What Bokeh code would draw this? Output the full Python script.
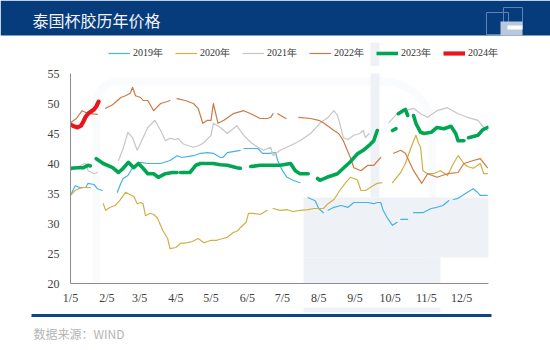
import numpy as np
from bokeh.plotting import figure
from bokeh.layouts import column
from bokeh.models import (Range1d, FixedTicker, Legend, LegendItem, BoxAnnotation,
                          Label, ColumnDataSource)
from bokeh.embed import file_html
from bokeh.resources import INLINE

nan = float("nan")

# x = days after Jan 5
tick_days = [0, 31, 59, 90, 120, 151, 181, 212, 243, 273, 304, 334]
tick_labels = ["1/5", "2/5", "3/5", "4/5", "5/5", "6/5", "7/5", "8/5", "9/5", "10/5", "11/5", "12/5"]
y_ticks = [20, 25, 30, 35, 40, 45, 50, 55]

series_names = ["2019年", "2020年", "2021年", "2022年", "2023年", "2024年"]

day_2019 = [0, 4, 8, 13, 15, 20, 23, 27, nan, 40, 43, 45, 49, 53, 60, 66, 77, 85, 91, 95, 105, 111, 117, 122,
            128, 130, 134, 145, nan, 148, 155, 160, 164, 170, 175, 177, 181, 185, 190, 196, nan, 203, 209, 212,
            216, nan, 220, 225, 231, 237, 242, 250, 254, 259, 262, 265, 267, 271, 275, 279, nan, 282, 288, nan,
            293, 301, 308, 313, 318, 323, nan, 327, 331, 335, 339, 344, 347, 350, 356]
val_2019 = [34.7, 36.3, 36.0, 36.0, 36.7, 36.5, 35.8, 35.5, nan, 35.2, 36.7, 37.5, 38.0, 39.3, 40.2, 40.0, 40.0,
            40.5, 41.3, 41.0, 41.3, 41.7, 41.8, 41.7, 41.0, 41.0, 41.8, 42.2, nan, 42.5, 42.5, 42.5, 41.7, 41.7,
            41.8, 40.5, 38.8, 37.7, 37.2, 36.8, nan, 34.3, 33.8, 32.5, 31.8, nan, 32.2, 32.7, 33.0, 32.7, 33.5,
            33.5, 33.5, 33.3, 33.5, 33.5, 32.2, 30.8, 29.7, 30.2, nan, 30.7, 30.7, nan, 31.8, 31.8, 32.5, 32.7,
            33.0, 33.8, nan, 34.0, 34.2, 34.7, 35.2, 35.8, 35.3, 34.7, 34.7]

day_2020 = [0, 4, 7, 11, 15, 17, nan, 28, 30, 34, 38, 42, 47, 51, 54, 57, 60, 62, 64, 68, 71, 74, 79, 83, 85, 90,
            94, 100, 104, 109, 114, 120, 125, 130, 134, 139, 143, 145, 150, 152, 156, 162, 168, nan, 173, 179,
            185, 190, 196, 203, 208, 216, 220, 225, 230, 235, 239, 245, 248, 252, 256, 262, 266, nan, 275, 282,
            286, 290, 293, 295, 297, 299, 301, 305, 310, 316, 322, 327, 331, 336, 339, 344, 350, 353, 356]
val_2020 = [34.7, 35.5, 35.8, 36.0, 36.0, 36.0, nan, 33.3, 32.2, 32.7, 33.0, 33.8, 35.2, 34.8, 34.5, 33.3, 33.5,
            33.3, 31.3, 31.7, 31.5, 31.0, 28.8, 27.5, 25.8, 26.0, 26.7, 26.8, 27.0, 27.5, 26.8, 27.2, 27.2, 27.5,
            27.7, 28.5, 28.8, 29.3, 30.2, 31.7, 31.7, 31.5, 32.2, nan, 32.5, 32.2, 32.3, 32.0, 32.2, 32.3, 32.5,
            32.5, 33.3, 34.0, 35.5, 36.8, 37.7, 37.3, 35.5, 35.5, 36.0, 36.7, 36.8, nan, 36.8, 38.5, 40.0, 42.2,
            43.8, 44.7, 43.5, 42.7, 38.8, 38.3, 38.3, 38.8, 38.0, 40.0, 41.3, 40.0, 39.5, 39.2, 40.0, 38.3, 38.3]

day_2021 = [0, 4, 9, 13, 15, 20, 23, nan, 41, 45, 49, 53, 57, 62, 66, 72, 77, 81, 85, 90, 92, 96, 100, 105, 110,
            114, 120, 122, 128, 134, 142, 148, 154, 160, 165, 171, 173, 179, 188, 196, 205, 213, 220, 225, 228,
            230, 233, 237, 242, 247, 250, 252, 255, nan, 272, 279, 286, 293, 299, 305, 313, 322, 331, 339, 348,
            353, 356]
val_2021 = [38.8, 39.2, 39.7, 40.0, 38.8, 38.3, 38.5, nan, 40.5, 42.5, 45.2, 44.3, 42.2, 44.3, 46.0, 47.2, 45.5,
            43.8, 44.2, 44.0, 44.2, 43.3, 43.0, 42.7, 43.0, 43.5, 44.7, 46.7, 46.0, 45.0, 46.3, 44.7, 43.5, 42.7,
            42.2, 42.7, 41.3, 42.2, 43.0, 43.8, 45.0, 46.7, 47.7, 48.8, 48.0, 46.7, 44.3, 44.0, 44.7, 45.0, 45.5,
            44.3, 45.0, nan, 46.8, 48.3, 48.8, 49.2, 48.3, 47.7, 48.8, 49.3, 48.3, 47.7, 47.2, 46.0, 45.5]

day_2022 = [0, 5, 10, 13, 17, 23, nan, 30, 36, 43, 47, 51, 53, 55.5, 60, 62, 66, 71, 77, 82, 85, nan, 91, 98, 105,
            109, 113, 117, 120, 122, 126, 131, 139, 148, 154, 162, 168, 171, 173, nan, 177, 184, nan, 195, 205,
            212, 216, 225, 229, 233, 239, 242, 248, 254, 259, 265, nan, 276, 282, 286, 293, 300, 305, 313, 322,
            331, 336, 344, 350, 356]
val_2022 = [46.8, 47.5, 48.8, 48.5, 48.3, 48.2, nan, 49.2, 49.8, 51.0, 51.3, 51.7, 52.7, 51.3, 51.0, 50.5, 50.5,
            48.8, 50.0, 50.3, 50.5, nan, 50.8, 50.5, 50.0, 49.2, 46.7, 47.2, 47.2, 50.0, 46.7, 47.2, 48.3, 48.8,
            48.3, 47.5, 47.5, 47.7, 48.3, nan, 48.3, 47.5, nan, 47.7, 47.5, 47.2, 46.8, 45.5, 45.0, 43.8, 41.0,
            39.3, 38.8, 39.7, 39.7, 41.0, nan, 41.7, 42.2, 41.7, 38.8, 36.7, 38.3, 37.7, 38.3, 38.5, 40.0, 40.5,
            40.8, 39.3]

day_2023 = [0, 6, 11, 15, 17, nan, 22, 28, 36, 41, 45, 49.5, 54, 58, 62, 66, 71, 75, 81, 87, 91, nan, 94, 102,
            107, 111, 117, 122, 128, 134, 142, 145, nan, 154, 162, 171, 179, 188, 192, 196, 203, nan, 211, 213,
            219, 228, 233, 239, 245, 250, 256, 259, 262, nan, 275, 278, nan, 280, 284, 286, 288, nan, 293, 295,
            299, 302, 308, 313, 319, 325, 329, 331, 336, nan, 340, 344, 348, 352, 356]
val_2023 = [39.2, 39.3, 39.3, 39.7, 39.6, nan, 40.8, 40.0, 39.3, 38.5, 39.2, 40.2, 39.3, 40.0, 39.2, 38.3, 38.3,
            37.7, 38.3, 38.5, 38.5, nan, 38.5, 38.5, 39.7, 40.0, 40.0, 40.0, 39.8, 39.7, 39.3, 39.2, nan, 39.5,
            39.7, 39.7, 39.7, 40.0, 38.8, 38.3, 38.3, nan, 37.5, 37.2, 37.7, 38.3, 39.2, 40.3, 41.6, 42.2, 43.2,
            43.8, 45.5, nan, 45.5, 45.8, nan, 48.3, 48.8, 49.0, 48.0, nan, 48.0, 46.7, 45.2, 45.0, 45.2, 46.0,
            45.8, 46.2, 45.0, 43.8, 43.8, nan, 44.3, 44.5, 44.7, 45.6, 46.0]

day_2024 = [0, 3, 6, 9, 11, 13, 15, 17, 20, 22, 24]
val_2024 = [46.5, 46.2, 46.0, 46.3, 47.0, 47.8, 48.3, 48.6, 49.0, 49.5, 50.3]

colors = ["#45b4e3", "#d2b044", "#c6c6c6", "#cc7a46", "#00a651", "#e8151c"]
widths = [1.2, 1.2, 1.2, 1.2, 3.6, 4.2]

W = 550
H_TOP, H_MAIN, H_FOOT = 66, 241, 43
WM = "#eef1f6"


def canvas_box(**kw):
    return BoxAnnotation(left_units="canvas", right_units="canvas", top_units="canvas",
                         bottom_units="canvas", **kw)


def plain_fig(h):
    f = figure(width=W, height=h, x_range=Range1d(0, W), y_range=Range1d(h, 0),
               output_backend="svg", toolbar_location=None,
               x_axis_location=None, y_axis_location=None,
               min_border=0, min_border_left=0, min_border_right=0, min_border_top=0, min_border_bottom=0)
    f.frame_align = False
    f.outline_line_color = None
    f.background_fill_color = "white"
    f.border_fill_color = "white"
    f.xgrid.grid_line_color = None
    f.ygrid.grid_line_color = None
    return f


# ---------- top: title banner + legend ----------
pt = plain_fig(H_TOP)
pt.quad(left=0, right=W, top=0, bottom=35, fill_color="#063c7c", line_color=None)
pt.quad(left=486, right=508, top=12, bottom=34, fill_color=None, line_color="#5f82b2", line_width=1)
pt.quad(left=503, right=522, top=7, bottom=26, fill_color=None, line_color="#5f82b2", line_width=1)
pt.quad(left=500, right=522, top=21, bottom=35, fill_color="#b9c8de", line_color=None)
pt.quad(left=507, right=522, top=25, bottom=29, fill_color="#ffffff", line_color=None)
pt.quad(left=370, right=379, top=42, bottom=H_TOP, fill_color=WM, line_color=None)
pt.add_layout(Label(x=32, y=19, text="泰国杯胶历年价格", text_color="#f2f4f8",
                    text_font="Noto Sans CJK SC", text_font_size="16px",
                    text_baseline="middle", text_align="left"))

legend_items = []
for name, c, w in zip(series_names, colors, widths):
    r = pt.line(x=[nan], y=[nan], line_color=c, line_width=w)
    legend_items.append(LegendItem(label=name, renderers=[r]))
legend = Legend(items=legend_items, orientation="horizontal", location=(108, 6),
                border_line_color=None, background_fill_alpha=0,
                label_text_font="Liberation Serif", label_text_font_size="10px", label_text_color="#333333",
                glyph_width=22, glyph_height=10, label_standoff=3, spacing=12, padding=0, margin=0,
                label_height=10)
pt.add_layout(legend)

# ---------- main chart ----------
p = figure(width=W, height=H_MAIN, x_range=Range1d(0, 357), y_range=Range1d(20, 55),
           output_backend="svg", toolbar_location=None,
           min_border_left=70, min_border_right=62, min_border_top=7, min_border_bottom=24)
p.frame_align = False
p.background_fill_color = "white"
p.border_fill_color = "white"
p.outline_line_color = None
p.xgrid.grid_line_color = None
p.ygrid.grid_line_color = None

# faint watermark logo (canvas pixels of this figure)
p.add_layout(canvas_box(left=96, right=432, top=15, bottom=300, fill_color=None, line_color=WM,
                        line_width=8, border_radius=(22, 50, 0, 0), level="underlay"))
p.add_layout(canvas_box(left=370, right=379, top=-30, bottom=131, fill_color=WM, fill_alpha=1,
                        line_color=None, level="underlay"))
p.add_layout(canvas_box(left=303, right=520, top=131, bottom=191, fill_color=WM, fill_alpha=1,
                        line_color=None, level="underlay"))
p.add_layout(canvas_box(left=303, right=440, top=191, bottom=260, fill_color=WM, fill_alpha=1,
                        line_color=None, level="underlay"))

days = [day_2019, day_2020, day_2021, day_2022, day_2023, day_2024]
vals = [val_2019, val_2020, val_2021, val_2022, val_2023, val_2024]
for d, v, c, w in zip(days, vals, colors, widths):
    src = ColumnDataSource(dict(x=np.array(d, dtype=float), y=np.array(v, dtype=float)))
    p.line("x", "y", source=src, line_color=c, line_width=w, line_join="round", line_cap="round")

for ax in (p.xaxis[0], p.yaxis[0]):
    ax.axis_line_color = "#8c8c8c"
    ax.axis_line_width = 1
    ax.major_tick_line_color = None
    ax.minor_tick_line_color = None
    ax.major_tick_out = 0
    ax.major_tick_in = 0
    ax.minor_tick_out = 0
    ax.minor_tick_in = 0
    ax.major_label_text_font = "Liberation Serif"
    ax.major_label_text_font_size = "12px"
    ax.major_label_text_color = "#404040"

p.xaxis[0].ticker = FixedTicker(ticks=tick_days)
p.xaxis[0].major_label_overrides = {d: s for d, s in zip(tick_days, tick_labels)}
p.xaxis[0].major_label_standoff = 7
p.yaxis[0].ticker = FixedTicker(ticks=y_ticks)
p.yaxis[0].major_label_standoff = 11

# ---------- footer ----------
pf = plain_fig(H_FOOT)
pf.quad(left=303, right=440, top=0, bottom=5, fill_color=WM, line_color=None)
pf.quad(left=31, right=491, top=6.5, bottom=9.5, fill_color="#0b468a", line_color=None)
pf.add_layout(Label(x=33, y=26, text="数据来源：WIND", text_color="#b5b5b5",
                    text_font="Noto Sans CJK SC", text_font_size="12px",
                    text_baseline="middle", text_align="left"))

layout = column(pt, p, pf, spacing=0)
open("out.html", "w").write(file_html(layout, INLINE))
